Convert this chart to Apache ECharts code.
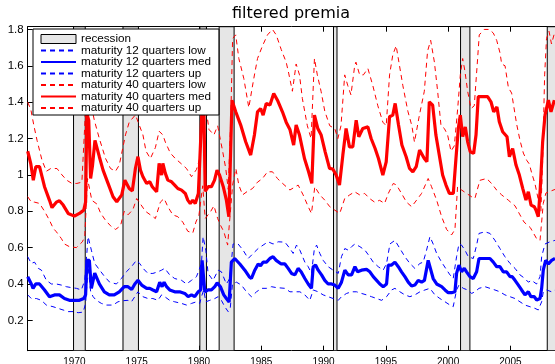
<!DOCTYPE html>
<html><head><meta charset="utf-8">
<script src="https://cdn.jsdelivr.net/npm/echarts@6/dist/echarts.min.js"></script>
<style>html,body{margin:0;padding:0;background:#fff}#c{width:555px;height:364px}</style>
</head><body><div id="c"></div>
<script>
const xTicks = [1970,1975,1980,1985,1990,1995,2000,2005];
const yTicks = [0.2,0.4,0.6,0.8,1,1.2,1.4,1.6,1.8];
const recessions = [[1969.93,1970.87],[1973.9,1975.14],[1980.07,1980.6],[1981.62,1982.82],[1990.8,1991.08],[2001.0,2001.75],[2007.96,2009.5]];

const blueLow = [[1966.25,0.34],[1966.54,0.32],[1966.95,0.32],[1967.35,0.31],[1967.75,0.284],[1968.28,0.275],[1968.69,0.266],[1969.09,0.257],[1969.5,0.248],[1969.9,0.248],[1970.3,0.242],[1970.7,0.245],[1970.9,0.293],[1971.1,0.495],[1971.3,0.36],[1971.5,0.33],[1971.76,0.31],[1972.17,0.293],[1972.57,0.284],[1973.1,0.284],[1973.5,0.302],[1973.9,0.308],[1974.3,0.31],[1974.58,0.302],[1974.85,0.33],[1975.1,0.357],[1975.5,0.33],[1975.9,0.32],[1976.3,0.32],[1976.7,0.31],[1977.0,0.34],[1977.25,0.33],[1977.65,0.31],[1978.05,0.302],[1978.6,0.293],[1979.0,0.284],[1979.4,0.293],[1979.8,0.302],[1980.06,0.293],[1980.2,0.33],[1980.38,0.367],[1980.55,0.302],[1980.87,0.31],[1981.27,0.32],[1981.54,0.33],[1981.8,0.31],[1982.07,0.275],[1982.34,0.248],[1982.5,0.26],[1982.69,0.40],[1983.0,0.41],[1983.41,0.394],[1983.81,0.357],[1984.21,0.33],[1984.62,0.357],[1985.02,0.376],[1985.42,0.376],[1985.82,0.385],[1986.22,0.38],[1986.9,0.376],[1987.3,0.357],[1987.7,0.357],[1988.1,0.357],[1988.5,0.34],[1988.9,0.31],[1989.17,0.367],[1989.57,0.357],[1989.97,0.34],[1990.37,0.33],[1990.77,0.32],[1991.18,0.31],[1991.44,0.33],[1991.85,0.348],[1992.25,0.357],[1992.65,0.357],[1993.05,0.348],[1993.45,0.34],[1993.85,0.33],[1994.26,0.32],[1994.66,0.31],[1995.06,0.33],[1995.46,0.367],[1995.73,0.376],[1996.13,0.357],[1996.53,0.34],[1996.93,0.33],[1997.33,0.34],[1997.74,0.357],[1998.14,0.367],[1998.54,0.376],[1998.94,0.34],[1999.34,0.32],[1999.75,0.302],[2000.15,0.284],[2000.41,0.275],[2000.68,0.367],[2000.87,0.394],[2001.22,0.376],[2001.57,0.367],[2001.89,0.348],[2002.16,0.357],[2002.48,0.376],[2002.96,0.385],[2003.36,0.376],[2003.76,0.367],[2004.16,0.357],[2004.56,0.34],[2004.97,0.33],[2005.37,0.32],[2005.77,0.302],[2006.17,0.284],[2006.57,0.275],[2006.97,0.266],[2007.24,0.257],[2007.51,0.302],[2007.64,0.357],[2007.91,0.367],[2008.31,0.357],[2008.58,0.367]];

const blueMed = [[1966.25,0.44],[1966.54,0.40],[1966.68,0.376],[1966.9,0.40],[1967.2,0.40],[1967.6,0.367],[1968.0,0.33],[1968.4,0.34],[1968.8,0.34],[1969.2,0.32],[1969.6,0.31],[1970.0,0.31],[1970.4,0.31],[1970.75,0.32],[1970.9,0.34],[1971.0,0.53],[1971.2,0.53],[1971.36,0.376],[1971.63,0.46],[1972.0,0.40],[1972.4,0.357],[1972.8,0.34],[1973.2,0.34],[1973.6,0.357],[1974.0,0.385],[1974.3,0.385],[1974.6,0.37],[1974.85,0.40],[1975.1,0.42],[1975.4,0.394],[1975.8,0.376],[1976.05,0.376],[1976.3,0.367],[1976.6,0.357],[1976.85,0.41],[1977.04,0.385],[1977.2,0.41],[1977.4,0.385],[1977.65,0.367],[1978.05,0.357],[1978.45,0.357],[1978.86,0.348],[1979.13,0.33],[1979.4,0.34],[1979.66,0.33],[1979.93,0.357],[1980.14,0.367],[1980.25,0.53],[1980.38,0.52],[1980.47,0.357],[1980.73,0.367],[1981.0,0.367],[1981.27,0.385],[1981.46,0.406],[1981.72,0.385],[1981.99,0.34],[1982.2,0.32],[1982.42,0.30],[1982.6,0.52],[1982.87,0.54],[1983.28,0.51],[1983.68,0.476],[1984.03,0.44],[1984.21,0.43],[1984.48,0.476],[1984.75,0.51],[1984.94,0.50],[1985.15,0.52],[1985.42,0.52],[1985.69,0.54],[1985.95,0.55],[1986.2,0.53],[1986.36,0.52],[1986.6,0.51],[1986.9,0.51],[1987.16,0.486],[1987.43,0.458],[1987.7,0.45],[1987.96,0.486],[1988.2,0.467],[1988.5,0.43],[1988.77,0.40],[1989.03,0.376],[1989.17,0.495],[1989.36,0.504],[1989.57,0.476],[1989.84,0.45],[1990.1,0.42],[1990.37,0.40],[1990.64,0.40],[1990.9,0.394],[1991.18,0.376],[1991.44,0.41],[1991.71,0.476],[1991.98,0.45],[1992.25,0.45],[1992.52,0.495],[1992.73,0.467],[1993.05,0.476],[1993.45,0.48],[1993.72,0.467],[1993.99,0.44],[1994.26,0.42],[1994.52,0.40],[1994.79,0.385],[1995.06,0.40],[1995.19,0.504],[1995.46,0.504],[1995.73,0.52],[1996.0,0.495],[1996.26,0.467],[1996.53,0.44],[1996.8,0.41],[1997.07,0.389],[1997.33,0.394],[1997.6,0.42],[1997.87,0.41],[1998.1,0.42],[1998.4,0.53],[1998.54,0.52],[1998.8,0.43],[1999.08,0.40],[1999.48,0.385],[1999.75,0.367],[2000.01,0.352],[2000.28,0.352],[2000.55,0.357],[2000.68,0.458],[2000.87,0.504],[2001.08,0.467],[2001.3,0.486],[2001.48,0.467],[2001.75,0.44],[2002.02,0.43],[2002.29,0.467],[2002.48,0.54],[2002.96,0.54],[2003.36,0.54],[2003.63,0.52],[2003.9,0.495],[2004.16,0.495],[2004.43,0.467],[2004.7,0.467],[2004.97,0.44],[2005.15,0.44],[2005.37,0.42],[2005.64,0.394],[2005.9,0.367],[2006.17,0.34],[2006.44,0.357],[2006.65,0.33],[2006.92,0.33],[2007.11,0.312],[2007.38,0.32],[2007.51,0.376],[2007.64,0.476],[2007.83,0.53],[2008.05,0.51],[2008.31,0.53],[2008.58,0.54]];

const blueUp = [[1966.25,0.55],[1966.54,0.513],[1966.8,0.52],[1967.1,0.486],[1967.35,0.476],[1967.75,0.42],[1968.15,0.40],[1968.55,0.40],[1968.95,0.394],[1969.35,0.385],[1969.76,0.38],[1970.16,0.376],[1970.56,0.367],[1970.83,0.42],[1971.1,0.66],[1971.36,0.586],[1971.63,0.513],[1972.03,0.476],[1972.43,0.44],[1972.83,0.41],[1973.37,0.40],[1973.77,0.43],[1974.17,0.467],[1974.58,0.495],[1974.98,0.53],[1975.24,0.513],[1975.51,0.486],[1975.9,0.458],[1976.3,0.458],[1976.7,0.467],[1977.0,0.476],[1977.25,0.486],[1977.65,0.45],[1978.05,0.43],[1978.6,0.42],[1979.0,0.40],[1979.4,0.42],[1979.8,0.44],[1980.2,0.513],[1980.33,0.66],[1980.55,0.586],[1980.73,0.458],[1981.13,0.42],[1981.54,0.476],[1981.8,0.467],[1982.2,0.40],[1982.47,0.43],[1982.74,0.62],[1983.14,0.62],[1983.54,0.586],[1983.95,0.54],[1984.35,0.568],[1984.75,0.595],[1985.15,0.614],[1985.55,0.632],[1985.95,0.62],[1986.36,0.632],[1986.9,0.63],[1987.3,0.595],[1987.56,0.568],[1987.83,0.614],[1988.1,0.586],[1988.5,0.52],[1988.77,0.495],[1989.03,0.458],[1989.25,0.586],[1989.44,0.614],[1989.7,0.568],[1989.97,0.53],[1990.37,0.495],[1990.77,0.476],[1991.18,0.458],[1991.44,0.55],[1991.71,0.595],[1991.98,0.586],[1992.25,0.605],[1992.52,0.62],[1992.92,0.605],[1993.32,0.586],[1993.6,0.56],[1993.99,0.52],[1994.39,0.495],[1994.79,0.476],[1995.06,0.513],[1995.33,0.62],[1995.73,0.64],[1996.13,0.595],[1996.53,0.55],[1996.93,0.513],[1997.33,0.486],[1997.74,0.513],[1998.0,0.52],[1998.27,0.586],[1998.54,0.66],[1998.8,0.62],[1999.08,0.568],[1999.48,0.52],[1999.8,0.486],[2000.15,0.45],[2000.41,0.43],[2000.68,0.55],[2000.87,0.62],[2001.08,0.614],[2001.35,0.586],[2001.62,0.55],[2002.02,0.54],[2002.29,0.614],[2002.48,0.678],[2002.96,0.687],[2003.36,0.678],[2003.76,0.64],[2004.16,0.595],[2004.56,0.55],[2004.97,0.513],[2005.37,0.486],[2005.77,0.45],[2006.17,0.43],[2006.44,0.41],[2006.7,0.42],[2007.1,0.40],[2007.38,0.44],[2007.51,0.55],[2007.78,0.62],[2008.18,0.632],[2008.58,0.64]];

const redLow = [[1966.25,0.88],[1966.55,0.85],[1966.8,0.85],[1967.2,0.843],[1967.6,0.80],[1968.0,0.75],[1968.3,0.706],[1968.55,0.687],[1968.95,0.65],[1969.2,0.62],[1969.6,0.605],[1970.16,0.60],[1970.64,0.632],[1970.83,0.66],[1971.05,0.98],[1971.4,0.86],[1971.8,0.84],[1972.1,0.79],[1972.5,0.75],[1972.9,0.72],[1973.3,0.70],[1973.7,0.72],[1974.0,0.80],[1974.3,0.78],[1974.7,0.81],[1975.0,0.87],[1975.3,0.84],[1975.7,0.80],[1976.1,0.78],[1976.5,0.76],[1976.9,0.85],[1977.2,0.87],[1977.5,0.825],[1977.9,0.78],[1978.3,0.77],[1978.7,0.74],[1979.1,0.69],[1979.5,0.68],[1979.75,0.74],[1980.0,0.78],[1980.3,0.94],[1980.5,0.76],[1980.95,0.80],[1981.2,0.83],[1981.5,0.76],[1981.75,0.72],[1982.0,0.687],[1982.3,0.614],[1982.45,0.62],[1982.7,0.944],[1982.96,1.035],[1983.2,0.944],[1983.5,0.89],[1983.9,0.91],[1984.3,0.925],[1984.7,0.96],[1985.1,0.98],[1985.5,1.017],[1985.9,1.017],[1986.3,0.98],[1986.6,0.96],[1987.3,0.917],[1987.96,0.944],[1988.36,0.89],[1988.77,0.825],[1989.03,0.788],[1989.3,0.935],[1989.7,0.89],[1990.1,0.861],[1990.5,0.825],[1990.9,0.806],[1991.3,0.788],[1991.7,0.87],[1992.1,0.89],[1992.5,0.907],[1992.9,0.89],[1993.3,0.898],[1993.7,0.87],[1994.1,0.85],[1994.5,0.86],[1994.9,0.843],[1995.2,0.898],[1995.6,0.953],[1995.86,0.944],[1996.26,0.898],[1996.66,0.85],[1997.07,0.825],[1997.47,0.861],[1997.87,0.898],[1998.4,0.98],[1998.67,0.935],[1999.08,0.861],[1999.48,0.77],[1999.88,0.70],[2000.28,0.67],[2000.55,0.70],[2000.76,0.935],[2001.08,0.917],[2001.48,0.898],[2001.88,0.88],[2002.15,0.87],[2002.55,0.97],[2003.09,0.98],[2003.49,0.953],[2003.89,0.917],[2004.3,0.89],[2004.83,0.861],[2005.37,0.83],[2005.77,0.78],[2006.1,0.74],[2006.6,0.71],[2006.85,0.68],[2007.1,0.65],[2007.38,0.64],[2007.64,0.843],[2007.85,0.90],[2008.2,0.91],[2008.58,0.92]];

const redMed = [[1966.25,1.13],[1966.5,1.06],[1966.7,0.97],[1966.9,1.045],[1967.2,1.045],[1967.6,0.935],[1968.0,0.86],[1968.2,0.82],[1968.55,0.85],[1968.8,0.858],[1969.1,0.834],[1969.5,0.788],[1970.0,0.773],[1970.4,0.788],[1970.75,0.806],[1970.9,0.85],[1971.0,1.34],[1971.15,1.30],[1971.3,0.98],[1971.45,1.05],[1971.65,1.19],[1972.0,1.10],[1972.3,1.026],[1972.7,0.953],[1973.1,0.88],[1973.4,0.852],[1973.8,0.89],[1974.05,0.971],[1974.2,0.975],[1974.4,0.925],[1974.65,0.912],[1974.9,1.036],[1975.1,1.10],[1975.3,1.026],[1975.5,0.99],[1975.8,0.953],[1976.05,0.962],[1976.25,0.935],[1976.6,0.907],[1976.8,1.063],[1977.0,0.999],[1977.1,1.063],[1977.3,1.008],[1977.5,0.971],[1977.8,0.962],[1978.05,0.944],[1978.3,0.925],[1978.6,0.916],[1978.9,0.898],[1979.1,0.861],[1979.3,0.843],[1979.5,0.861],[1979.7,0.843],[1979.95,0.898],[1980.1,0.907],[1980.25,1.37],[1980.4,1.33],[1980.5,0.91],[1980.75,0.935],[1981.0,0.935],[1981.25,0.971],[1981.45,1.026],[1981.65,0.999],[1981.95,0.935],[1982.2,0.861],[1982.4,0.77],[1982.47,0.76],[1982.65,1.41],[1982.95,1.347],[1983.35,1.274],[1983.75,1.182],[1984.15,1.109],[1984.45,1.219],[1984.7,1.347],[1984.95,1.365],[1985.15,1.329],[1985.4,1.393],[1985.7,1.384],[1986.0,1.448],[1986.3,1.411],[1986.7,1.347],[1987.0,1.29],[1987.3,1.25],[1987.6,1.164],[1987.8,1.274],[1988.07,1.219],[1988.47,1.09],[1988.8,1.017],[1989.06,0.953],[1989.27,1.329],[1989.54,1.255],[1989.81,1.219],[1990.13,1.127],[1990.48,1.036],[1990.74,1.032],[1991.01,0.999],[1991.28,0.944],[1991.55,1.109],[1991.81,1.255],[1992.08,1.154],[1992.35,1.154],[1992.62,1.301],[1992.83,1.21],[1993.15,1.255],[1993.56,1.264],[1993.82,1.2],[1994.14,1.145],[1994.41,1.09],[1994.76,0.999],[1995.03,1.072],[1995.3,1.32],[1995.56,1.329],[1995.75,1.393],[1996.02,1.274],[1996.29,1.164],[1996.63,1.1],[1996.9,1.036],[1997.17,1.017],[1997.44,1.045],[1997.71,1.136],[1998.09,1.09],[1998.3,1.072],[1998.49,1.402],[1998.76,1.384],[1999.02,1.219],[1999.29,1.109],[1999.56,0.999],[1999.83,0.944],[2000.1,0.898],[2000.42,0.898],[2000.63,1.09],[2000.82,1.255],[2000.98,1.329],[2001.17,1.21],[2001.38,1.264],[2001.57,1.182],[2001.78,1.127],[2002.05,1.118],[2002.24,1.219],[2002.42,1.43],[2002.77,1.43],[2003.17,1.43],[2003.44,1.402],[2003.66,1.347],[2003.92,1.374],[2004.11,1.292],[2004.38,1.237],[2004.73,1.21],[2004.92,1.1],[2005.18,1.145],[2005.45,1.054],[2005.72,0.999],[2005.99,0.926],[2006.25,0.861],[2006.44,0.907],[2006.66,0.834],[2006.92,0.825],[2007.06,0.806],[2007.24,0.77],[2007.4,0.926],[2007.59,1.182],[2007.78,1.329],[2008.05,1.411],[2008.26,1.347],[2008.53,1.411]];

const redUp = [[1966.25,1.40],[1966.5,1.36],[1966.75,1.27],[1967.0,1.19],[1967.4,1.08],[1967.75,1.02],[1968.1,1.035],[1968.6,1.035],[1969.0,1.0],[1969.4,0.97],[1969.8,0.953],[1970.2,0.953],[1970.6,0.96],[1970.85,1.30],[1971.0,1.62],[1971.3,1.40],[1971.6,1.30],[1972.0,1.20],[1972.5,1.09],[1972.9,1.035],[1973.3,1.02],[1973.6,1.054],[1974.1,1.22],[1974.4,1.29],[1974.9,1.33],[1975.5,1.22],[1975.75,1.13],[1976.1,1.09],[1976.5,1.15],[1976.8,1.24],[1977.1,1.22],[1977.3,1.18],[1977.7,1.12],[1978.1,1.09],[1978.6,1.06],[1979.0,1.035],[1979.4,0.99],[1979.8,1.03],[1980.1,1.10],[1980.3,1.80],[1980.5,1.40],[1980.8,1.25],[1981.2,1.22],[1981.5,1.27],[1981.9,1.13],[1982.15,1.035],[1982.35,0.92],[1982.55,1.30],[1982.7,1.75],[1982.95,1.77],[1983.2,1.64],[1983.6,1.53],[1984.0,1.37],[1984.4,1.53],[1984.7,1.64],[1985.1,1.71],[1985.5,1.77],[1985.9,1.80],[1986.2,1.77],[1986.6,1.69],[1987.0,1.62],[1987.2,1.56],[1987.5,1.46],[1987.8,1.61],[1988.07,1.55],[1988.3,1.42],[1988.7,1.27],[1989.0,1.2],[1989.27,1.64],[1989.5,1.55],[1989.8,1.46],[1990.1,1.35],[1990.5,1.27],[1990.9,1.255],[1991.15,1.2],[1991.4,1.27],[1991.7,1.55],[1991.95,1.49],[1992.2,1.44],[1992.5,1.60],[1992.6,1.62],[1992.9,1.55],[1993.2,1.55],[1993.56,1.585],[1993.96,1.49],[1994.36,1.38],[1994.76,1.29],[1995.03,1.27],[1995.3,1.55],[1995.56,1.66],[1995.83,1.71],[1996.1,1.60],[1996.37,1.49],[1996.77,1.35],[1997.09,1.27],[1997.3,1.18],[1997.7,1.33],[1998.09,1.46],[1998.35,1.68],[1998.6,1.74],[1998.9,1.62],[1999.16,1.46],[1999.43,1.27],[1999.7,1.255],[1999.96,1.22],[2000.23,1.13],[2000.5,1.16],[2000.77,1.365],[2000.98,1.55],[2001.17,1.64],[2001.35,1.57],[2001.57,1.46],[2001.84,1.365],[2002.1,1.38],[2002.37,1.64],[2002.5,1.77],[2002.9,1.80],[2003.3,1.80],[2003.63,1.78],[2003.9,1.74],[2004.17,1.67],[2004.3,1.61],[2004.57,1.60],[2004.84,1.48],[2005.1,1.45],[2005.24,1.39],[2005.5,1.28],[2005.77,1.19],[2006.04,1.12],[2006.31,1.08],[2006.52,1.06],[2006.71,1.01],[2006.98,0.95],[2007.25,0.86],[2007.45,0.80],[2007.6,1.10],[2007.75,1.55],[2007.9,1.75],[2008.1,1.79],[2008.3,1.72],[2008.58,1.79]];

const X_MIN = 1966.25, X_MAX = 2008.75, Y_MIN = 0.033, Y_MAX = 1.815;
const FONT = 'Liberation Sans, Arial, Helvetica, sans-serif';
const BLUE = '#0000ff', RED = '#ff0000';

function line(name, data, color, width, dashed) {
  return {
    name, type: 'line', data, symbol: 'none', showSymbol: false,
    lineStyle: { color, width, type: dashed ? [5, 4] : 'solid' },
    itemStyle: { color }, z: 3, animation: false, silent: true
  };
}

const chart = echarts.init(document.getElementById('c'));
const axisCommon = {
  type: 'value',
  splitLine: { show: false },
  axisLine: { show: true, onZero: false, lineStyle: { color: '#000', width: 1 } },
  axisTick: { show: true, inside: true, length: 5, lineStyle: { color: '#000' } }
};
const fmt = v => String(v);
chart.setOption({
  animation: false,
  backgroundColor: '#fff',
  title: { text: 'filtered premia', left: 232, top: 6, padding: 0,
    textStyle: { fontFamily: 'DejaVu Sans, sans-serif', fontSize: 16, fontWeight: 'normal', color: '#000' } },
  grid: { left: 27.7, top: 26.7, right: -2.1, bottom: 13.3, containLabel: false, outerBoundsMode: 'none' },
  legend: {
    orient: 'vertical', left: 33, top: 29,
    backgroundColor: '#fff', borderColor: '#000', borderWidth: 1,
    padding: [4, 8, 1, 7], itemGap: -0.5, itemWidth: 35, itemHeight: 9,
    itemStyle: { opacity: 0 },
    textStyle: { fontFamily: FONT, fontSize: 11.7, color: '#000' },
    data: [
      { name: 'recession', icon: 'rect', itemStyle: { color: '#e6e6e6', borderColor: '#000', borderWidth: 1, opacity: 1 } },
      'maturity 12 quarters low', 'maturity 12 quarters med', 'maturity 12 quarters up',
      'maturity 40 quarters low', 'maturity 40 quarters med', 'maturity 40 quarters up'
    ],
    z: 10
  },
  xAxis: [
    Object.assign({}, axisCommon, { min: X_MIN, max: X_MAX, position: 'bottom',
      axisTick: Object.assign({}, axisCommon.axisTick, { customValues: xTicks }),
      axisLabel: { customValues: xTicks, formatter: fmt, fontFamily: FONT, fontSize: 10, color: '#000', margin: 6.5 } }),
    Object.assign({}, axisCommon, { min: X_MIN, max: X_MAX, position: 'top',
      axisTick: Object.assign({}, axisCommon.axisTick, { customValues: xTicks }),
      axisLabel: { show: false } })
  ],
  yAxis: [
    Object.assign({}, axisCommon, { min: Y_MIN, max: Y_MAX, position: 'left',
      axisTick: Object.assign({}, axisCommon.axisTick, { customValues: yTicks }),
      axisLabel: { customValues: yTicks, formatter: fmt, fontFamily: FONT, fontSize: 11.5, color: '#000', margin: 4 } })
  ],
  series: [
    {
      name: 'recession', type: 'custom', data: recessions, z: 1, clip: true, silent: true,
      encode: { x: [0, 1] },
      itemStyle: { color: '#e6e6e6' },
      renderItem: function (params, api) {
        const a = api.coord([api.value(0), Y_MAX]);
        const b = api.coord([api.value(1), Y_MIN]);
        return { type: 'rect', shape: { x: a[0], y: a[1], width: b[0] - a[0], height: b[1] - a[1] },
          style: { fill: '#e6e6e6', stroke: '#000', lineWidth: 1 } };
      }
    },
    line('maturity 12 quarters low', blueLow, BLUE, 1, true),
    line('maturity 12 quarters med', blueMed, BLUE, 3.2, false),
    line('maturity 12 quarters up', blueUp, BLUE, 1, true),
    line('maturity 40 quarters low', redLow, RED, 1, true),
    line('maturity 40 quarters med', redMed, RED, 3.2, false),
    line('maturity 40 quarters up', redUp, RED, 1, true)
  ]
});
</script>
</body></html>
